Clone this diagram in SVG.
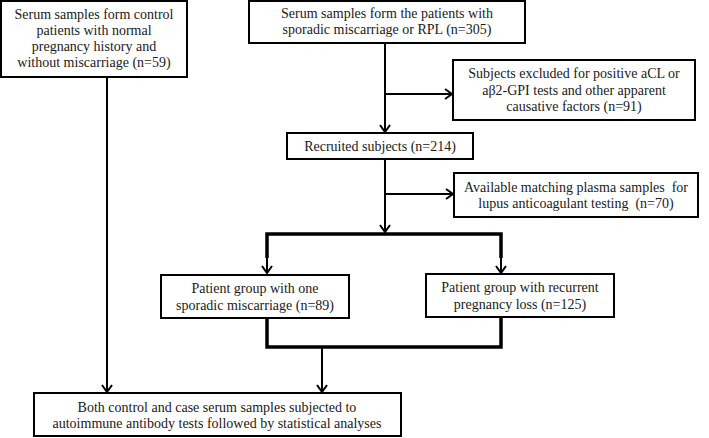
<svg xmlns="http://www.w3.org/2000/svg" width="709" height="438" viewBox="0 0 709 438">
<defs>
<style>
.box{fill:#fff;stroke:#000;stroke-width:2}
.t{font-family:"Liberation Serif","Times New Roman",serif;font-size:14px;fill:#1a1a1a;text-anchor:middle;white-space:pre}
.ln{fill:none;stroke:#000;stroke-width:2}
.thick{fill:none;stroke:#000;stroke-width:3.5}
</style>
<marker id="ah" markerUnits="userSpaceOnUse" markerWidth="14" markerHeight="14" refX="9" refY="6" orient="auto" viewBox="0 0 14 12">
<path d="M2,1 L9,6 L2,11" fill="none" stroke="#000" stroke-width="2"/>
</marker>
</defs>
<rect width="709" height="438" fill="#fff"/>
<g id="connectors">
<path class="ln" d="M107,78 V392" marker-end="url(#ah)"/>
<path class="ln" d="M385,43 V132" marker-end="url(#ah)"/>
<path class="ln" d="M385,94 H452" marker-end="url(#ah)"/>
<path class="ln" d="M385,159 V232" marker-end="url(#ah)"/>
<path class="ln" d="M385,194 H453" marker-end="url(#ah)"/>
<path class="thick" d="M267,258 V234 H501 V258"/>
<path class="ln" d="M267,256 V273" marker-end="url(#ah)"/>
<path class="ln" d="M501,256 V273" marker-end="url(#ah)"/>
<path class="thick" d="M267,318 V347 H501 V317"/>
<path class="ln" d="M322,347 V392" marker-end="url(#ah)"/>
</g>
<g id="control">
<rect class="box" x="1" y="1" width="186" height="76"/>
<text class="t" x="94" y="19">Serum samples form control</text>
<text class="t" x="94" y="35">patients with normal</text>
<text class="t" x="94" y="51">pregnancy history and</text>
<text class="t" x="94" y="67">without miscarriage (n=59)</text>
</g>
<g id="patients">
<rect class="box" x="249" y="1" width="276" height="42"/>
<text class="t" x="387" y="18">Serum samples form the patients with</text>
<text class="t" x="387" y="34">sporadic miscarriage or RPL (n=305)</text>
</g>
<g id="excluded">
<rect class="box" x="453" y="60" width="242" height="60"/>
<text class="t" x="574" y="78">Subjects excluded for positive aCL or</text>
<text class="t" x="574" y="95">aβ2-GPI tests and other apparent</text>
<text class="t" x="574" y="111">causative factors (n=91)</text>
</g>
<g id="recruited">
<rect class="box" x="287" y="133" width="186" height="26"/>
<text class="t" x="380" y="151">Recruited subjects (n=214)</text>
</g>
<g id="plasma">
<rect class="box" x="454" y="173" width="244" height="44"/>
<text class="t" x="576" y="192">Available matching plasma samples  for</text>
<text class="t" x="576" y="208">lupus anticoagulant testing  (n=70)</text>
</g>
<g id="sporadic">
<rect class="box" x="161" y="275" width="188" height="43"/>
<text class="t" x="255" y="293">Patient group with one</text>
<text class="t" x="255" y="310">sporadic miscarriage (n=89)</text>
</g>
<g id="rpl">
<rect class="box" x="426" y="274" width="188" height="43"/>
<text class="t" x="520" y="292">Patient group with recurrent</text>
<text class="t" x="520" y="309">pregnancy loss (n=125)</text>
</g>
<g id="final">
<rect class="box" x="34" y="393" width="367" height="43"/>
<text class="t" x="217" y="412">Both control and case serum samples subjected to</text>
<text class="t" x="217" y="428">autoimmune antibody tests followed by statistical analyses</text>
</g>
</svg>
